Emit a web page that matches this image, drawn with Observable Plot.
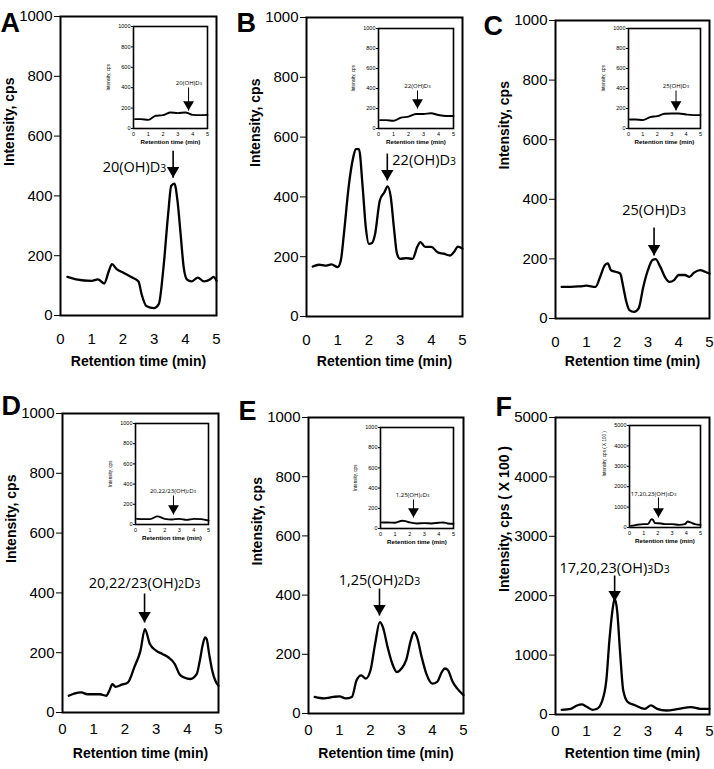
<!DOCTYPE html>
<html><head><meta charset="utf-8">
<script src="https://cdn.jsdelivr.net/npm/d3@7"></script>
<script src="https://cdn.jsdelivr.net/npm/@observablehq/plot@0.6"></script>
<style>
body{margin:0;background:#fff;}
#fig{position:relative;width:714px;height:769px;background:#fff;overflow:hidden;}
#fig svg{position:absolute;}
</style></head><body><div id="fig"></div>
<script>
// ---------- data (retention time in min, intensity in cps) ----------
const xTicks = [0, 1, 2, 3, 4, 5];
const yTicks1000 = [0, 200, 400, 600, 800, 1000];
const yTicks5000 = [0, 1000, 2000, 3000, 4000, 5000];
const panelLetters = ["A", "B", "C", "D", "E", "F"];
const yTitles = ["Intensity, cps", "Intensity, cps", "Intensity, cps", "Intensity, cps", "Intensity, cps", "Intensity, cps ( X 100 )"];
const xTitle = "Retention time (min)";

const tA = [0.22,0.5,1.0,1.2,1.4,1.55,1.65,1.8,2.0,2.3,2.5,2.6,2.75,3.0,3.15,3.3,3.45,3.55,3.65,3.75,3.85,3.95,4.05,4.2,4.4,4.6,4.8,4.9,5.0];
const vA = [129,121,116,121,107,149,172,155,144,127,114,71,32,25,38,160,339,434,441,383,272,160,121,114,127,114,121,129,116];
const tB = [0.2,0.4,0.6,0.8,1.0,1.1,1.2,1.35,1.5,1.58,1.68,1.8,1.9,2.0,2.1,2.2,2.35,2.5,2.6,2.7,2.8,2.9,3.0,3.2,3.4,3.55,3.65,3.8,4.0,4.2,4.4,4.6,4.75,4.85,5.0];
const vB = [167,173,170,174,165,187,277,433,533,560,560,433,299,243,246,277,388,416,435,400,299,210,193,195,193,233,249,233,233,215,210,204,219,234,227];
const tC = [0.2,0.5,0.8,1.0,1.3,1.45,1.6,1.7,1.8,1.95,2.1,2.2,2.3,2.4,2.55,2.7,2.85,3.0,3.15,3.25,3.4,3.55,3.7,3.85,4.0,4.2,4.35,4.5,4.7,4.85,5.0];
const vC = [106,106,108,110,106,140,179,185,162,157,151,106,56,28,22,34,106,162,196,199,174,140,123,129,146,146,140,154,162,157,151];
const tD = [0.2,0.4,0.6,0.8,1.0,1.2,1.4,1.5,1.6,1.7,1.9,2.1,2.3,2.5,2.64,2.8,3.0,3.2,3.4,3.6,3.75,3.9,4.1,4.3,4.4,4.5,4.57,4.62,4.7,4.8,4.9,5.0];
const vD = [56,64,67,61,61,61,56,73,95,86,93,101,151,207,279,229,207,196,184,162,128,117,112,128,173,229,251,246,196,140,106,89];
const tE = [0.2,0.5,0.8,1.0,1.2,1.4,1.55,1.7,1.85,2.0,2.15,2.3,2.4,2.55,2.7,2.85,3.0,3.15,3.3,3.4,3.5,3.65,3.8,4.0,4.15,4.3,4.4,4.5,4.65,4.8,5.0];
const vE = [56,51,56,58,51,56,112,129,118,146,236,309,292,225,169,140,152,180,247,275,258,191,135,101,107,140,152,146,107,84,62];
const tF = [0.2,0.5,0.7,0.85,1.0,1.2,1.35,1.5,1.65,1.75,1.85,1.92,2.0,2.1,2.2,2.35,2.6,2.9,3.1,3.3,3.6,4.0,4.4,4.7,5.0];
const vF = [79,96,152,169,135,79,96,208,573,1247,1753,1949,1753,1022,404,208,152,96,152,96,67,96,124,96,96];

// insets (wider view)
const itABC = [0.1,0.5,1.0,1.5,2.0,2.5,3.0,3.5,4.0,4.5,5.0];
const ivA = [92,92,85,125,131,157,151,157,134,131,134];
const ivB = [84,84,77,108,118,145,145,152,135,125,125];
const ivC = [90,90,84,114,124,147,150,150,140,134,134];
const itD = [0.1,1.0,1.5,2.0,2.5,3.0,3.5,4.0,4.5,5.0];
const ivD = [56,53,80,56,50,56,46,56,53,40];
const itE = [0.1,0.5,1.0,1.5,1.7,2.0,2.5,3.0,3.5,4.0,4.3,4.6,5.0];
const ivE = [60,60,57,77,73,60,50,53,50,57,60,50,47];
const itF = [0.1,0.5,1.0,1.3,1.55,1.65,1.8,2.2,2.5,3.0,3.5,3.9,4.1,4.3,4.6,5.0];
const ivF = [82,131,164,164,410,377,213,197,164,164,131,164,295,246,164,131];

// peak annotations (label text; "_n" = subscript)
const peakLabels = ["20(OH)D_3", "22(OH)D_3", "25(OH)D_3", "20,22/23(OH)_2D_3", "1,25(OH)_2D_3", "17,20,23(OH)_3D_3"];
const arrowT    = [3.61, 2.59, 3.2, 2.63, 2.29, 1.92];
const arrowTop  = [551, 545, 305, 398, 422, 2340];
const arrowTip  = [461, 455, 211, 301, 331, 1902];
const labelT    = [3.39, 2.75, 3.2, 2.63, 2.29, 1.92];
const labelV    = [495, 522, 362, 431, 449, 2458];
const labelAnchor = ["end", "start", "middle", "middle", "middle", "middle"];
const insetArrowT   = [3.72, 2.6, 3.3, 2.6, 2.26, 2.04];
const insetArrowTop = [402, 380, 380, 287, 287, 1470];
const insetArrowTip = [176, 200, 180, 99, 109, 490];
const insetLabelT   = [3.75, 2.6, 3.3, 2.57, 2.2, 1.7];
const insetLabelV   = [441, 420, 420, 327, 327, 1617];

// ---------- layout (page pixels) ----------
const layout = [
  {svg:[0,0,235,380],   frame:[60,216,16,315],   inset:[133,207,26,128], xpad:17.7, xt:50, letter:[-60,-4]},
  {svg:[235,0,240,380], frame:[306,462,17,316],  inset:[378,453,28,128], xpad:17.7, xt:49, letter:[-70,-5]},
  {svg:[475,0,239,380], frame:[555,709,20,318],  inset:[628,700,28,128], xpad:17.7, xt:47, letter:[-72,-5]},
  {svg:[0,380,235,389], frame:[62,218,413,712],  inset:[135,208,423,524], xpad:11.3, xt:45, letter:[-61,-18]},
  {svg:[235,380,240,389], frame:[308,463,417,713], inset:[380,453,427,528], xpad:11.3, xt:44, letter:[-70,-17]},
  {svg:[475,380,239,389], frame:[555,709,417,714], inset:[629,700,425,527], xpad:11.3, xt:43, letter:[-60,-21]}
];

const mainSeries = [[tA,vA],[tB,vB],[tC,vC],[tD,vD],[tE,vE],[tF,vF]];
const insetSeries = [[itABC,ivA],[itABC,ivB],[itABC,ivC],[itD,ivD],[itE,ivE],[itF,ivF]];
const yMax = [1000,1000,1000,1000,1000,5000];

const downTriangle = {
  draw(ctx, size) {
    const r = Math.sqrt(size / Math.PI);
    const w = 1.35 * r, h = 2.3 * r;
    ctx.moveTo(0, 0); ctx.lineTo(-w, -h); ctx.lineTo(w, -h); ctx.closePath();
  }
};

function subscripts(svg) {
  svg.querySelectorAll("text").forEach(t => {
    const s = t.textContent;
    if (!s.includes("_")) return;
    while (t.firstChild) t.removeChild(t.firstChild);
    s.split(/_(\d)/).forEach((p, i) => {
      if (!p) return;
      const ts = document.createElementNS("http://www.w3.org/2000/svg", "tspan");
      ts.textContent = p;
      if (i % 2 === 1) ts.setAttribute("font-size", "72%");
      t.appendChild(ts);
    });
  });
}

const fig = document.getElementById("fig");
const baseStyle = {background: "transparent", fontFamily: "'Liberation Sans', Arial, sans-serif", overflow: "visible", color: "black"};

function place(svg, box) {
  svg.style.left = box[0] + "px";
  svg.style.top = box[1] + "px";
  subscripts(svg);
  fig.appendChild(svg);
}

layout.forEach((L, i) => {
  const [sl, st, sw, sh] = L.svg;
  const [fl, fr, ft, fb] = L.frame;
  const data = mainSeries[i][0].map((t, j) => ({t, v: mainSeries[i][1][j]}));
  const ann = [{t: arrowT[i], top: arrowTop[i], tip: arrowTip[i], lt: labelT[i], lv: labelV[i], label: peakLabels[i]}];
  const svg = Plot.plot({
    width: sw, height: sh,
    marginLeft: fl - sl, marginRight: sl + sw - fr, marginTop: ft - st, marginBottom: st + sh - fb,
    style: {...baseStyle, fontSize: "15px"},
    x: {domain: [0, 5], ticks: xTicks, tickSize: 0, tickPadding: L.xpad, label: null, tickFormat: d => String(d)},
    y: {domain: [0, yMax[i]], ticks: yMax[i] === 5000 ? yTicks5000 : yTicks1000, tickSize: 6, tickPadding: 2, label: null, tickFormat: d => String(d)},
    marks: [
      Plot.line(data, {x: "t", y: "v", stroke: "black", strokeWidth: 2.3, curve: "monotone-x"}),
      Plot.frame({stroke: "black", strokeWidth: 2}),
      Plot.link(ann, {x1: "t", x2: "t", y1: "top", y2: "tip", stroke: "black", strokeWidth: 1.6}),
      Plot.dot(ann, {x: "t", y: "tip", symbol: downTriangle, r: 4.6, fill: "black", stroke: "none"}),
      Plot.text(ann, {x: "lt", y: "lv", text: "label", textAnchor: labelAnchor[i], fontSize: 14.5, fontFamily: "'Open Sans', sans-serif", fill: "black"}),
      Plot.text([panelLetters[i]], {frameAnchor: "top-left", text: d => d, textAnchor: "start", dx: L.letter[0], dy: L.letter[1], fontSize: 27, fontWeight: "bold", fill: "black"}),
      Plot.text([xTitle], {frameAnchor: "bottom", text: d => d, dy: L.xt, fontSize: 14, fontWeight: "bold", fill: "black"}),
      Plot.text([yTitles[i]], {frameAnchor: "left", text: d => d, dx: -51, dy: i === 5 ? 26 : 0, rotate: -90, fontSize: 14, fontWeight: "bold", fill: "black"})
    ]
  });
  place(svg, [sl, st]);

  // inset
  const [il, ir, it, ib] = L.inset;
  const mL = 34, mR = 5, mT = 5, mB = 22;
  const idata = insetSeries[i][0].map((t, j) => ({t, v: insetSeries[i][1][j]}));
  const iann = [{t: insetArrowT[i], top: insetArrowTop[i], tip: insetArrowTip[i], lt: insetLabelT[i], lv: insetLabelV[i], label: peakLabels[i]}];
  const isvg = Plot.plot({
    width: (ir - il) + mL + mR, height: (ib - it) + mT + mB,
    marginLeft: mL, marginRight: mR, marginTop: mT, marginBottom: mB,
    style: {...baseStyle, fontSize: "5.5px"},
    x: {domain: [0, 5], ticks: xTicks, tickSize: 0, tickPadding: 4, label: null, tickFormat: d => String(d)},
    y: {domain: [0, yMax[i]], ticks: yMax[i] === 5000 ? yTicks5000 : yTicks1000, tickSize: 2, tickPadding: 1, label: null, tickFormat: d => String(d)},
    marks: [
      Plot.line(idata, {x: "t", y: "v", stroke: "black", strokeWidth: 1.9, curve: "monotone-x"}),
      Plot.frame({stroke: "black", strokeWidth: 1.6}),
      Plot.link(iann, {x1: "t", x2: "t", y1: "top", y2: "tip", stroke: "black", strokeWidth: 1}),
      Plot.dot(iann, {x: "t", y: "tip", symbol: downTriangle, r: 4, fill: "black", stroke: "none"}),
      Plot.text(iann, {x: "lt", y: "lv", text: "label", fontSize: 6, fontFamily: "'Open Sans', sans-serif", fill: "black"}),
      Plot.text([xTitle], {frameAnchor: "bottom", text: d => d, dy: 15, fontSize: 6.2, fontWeight: "bold", fill: "black"}),
      Plot.text([yTitles[i]], {frameAnchor: "left", text: d => d, dx: -25, dy: i === 5 ? 0 : 13, rotate: -90, fontSize: 4.6, fill: "black"})
    ]
  });
  place(isvg, [il - mL, it - mT]);
});
</script>
</body></html>
